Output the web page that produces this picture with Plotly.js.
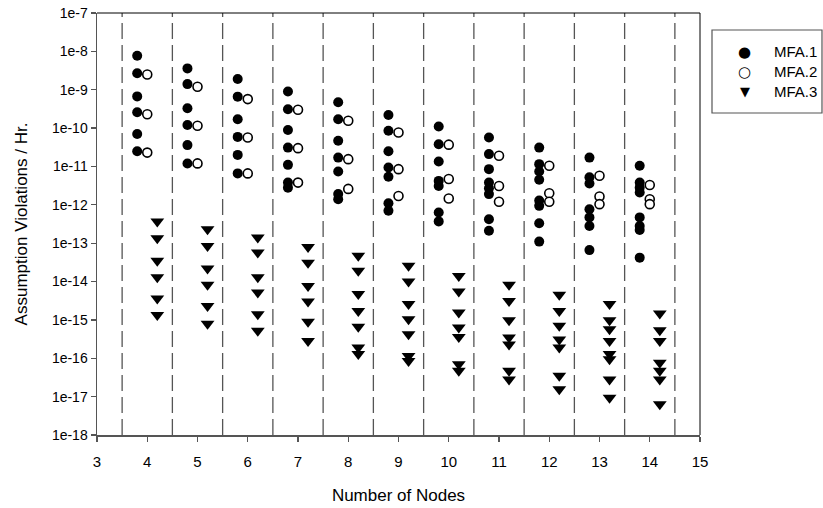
<!DOCTYPE html>
<html>
<head>
<meta charset="utf-8">
<script src="https://cdn.plot.ly/plotly-3.0.1.min.js"></script>
<style>
  html, body { margin: 0; padding: 0; background: #fff; }
  #chart { width: 823px; height: 508px; }
</style>
</head>
<body>
<div id="chart"></div>
<script>
// Number of nodes in the system (x categories)
const nodes = [4, 5, 6, 7, 8, 9, 10, 11, 12, 13, 14];

// Assumption violations per hour, one list per node count
const mfa1 = [
  [7.7e-9, 2.7e-9, 6.7e-10, 2.6e-10, 7.0e-11, 2.5e-11],
  [3.6e-9, 1.4e-9, 3.3e-10, 1.2e-10, 3.6e-11, 1.2e-11],
  [1.9e-9, 6.6e-10, 1.7e-10, 5.9e-11, 2.0e-11, 6.6e-12],
  [9.0e-10, 3.1e-10, 8.9e-11, 3.1e-11, 1.1e-11, 3.8e-12, 2.8e-12],
  [4.7e-10, 1.7e-10, 4.7e-11, 1.7e-11, 7.4e-12, 1.9e-12, 1.4e-12],
  [2.2e-10, 8.5e-11, 2.5e-11, 9.4e-12, 5.4e-12, 1.1e-12, 7.0e-13],
  [1.1e-10, 3.8e-11, 1.35e-11, 4.2e-12, 3.1e-12, 6.3e-13, 3.7e-13],
  [5.7e-11, 2.1e-11, 8.5e-12, 3.8e-12, 2.7e-12, 1.9e-12, 4.2e-13, 2.1e-13],
  [3.1e-11, 1.15e-11, 7.4e-12, 4.5e-12, 1.3e-12, 9.4e-13, 3.3e-13, 1.1e-13],
  [1.7e-11, 5.2e-12, 3.6e-12, 7.7e-13, 4.7e-13, 2.8e-13, 6.6e-14],
  [1.04e-11, 3.8e-12, 2.8e-12, 2.1e-12, 4.7e-13, 2.8e-13, 2.2e-13, 4.2e-14]
];

const mfa2 = [
  [2.5e-9, 2.3e-10, 2.3e-11],
  [1.2e-9, 1.15e-10, 1.2e-11],
  [5.7e-10, 5.7e-11, 6.6e-12],
  [3.0e-10, 3.0e-11, 3.8e-12],
  [1.55e-10, 1.55e-11, 2.6e-12],
  [7.7e-11, 8.5e-12, 1.7e-12],
  [3.7e-11, 4.7e-12, 1.46e-12],
  [1.9e-11, 3.1e-12, 1.2e-12],
  [1.04e-11, 2.0e-12, 1.2e-12],
  [5.7e-12, 1.65e-12, 1.04e-12],
  [3.3e-12, 1.4e-12, 1.04e-12]
];

const mfa3 = [
  [3.7e-13, 1.35e-13, 3.5e-14, 1.3e-14, 3.6e-15, 1.35e-15],
  [2.3e-13, 8.5e-14, 2.2e-14, 8.2e-15, 2.3e-15, 8.0e-16],
  [1.4e-13, 5.7e-14, 1.3e-14, 5.2e-15, 1.4e-15, 5.2e-16],
  [8.0e-14, 3.1e-14, 7.7e-15, 3.0e-15, 8.9e-16, 2.8e-16],
  [4.7e-14, 1.9e-14, 4.7e-15, 1.7e-15, 6.6e-16, 1.9e-16, 1.3e-16],
  [2.6e-14, 1.0e-14, 2.6e-15, 1.04e-15, 4.2e-16, 1.15e-16, 8.5e-17],
  [1.4e-14, 5.5e-15, 1.55e-15, 6.3e-16, 3.6e-16, 7.0e-17, 4.7e-17],
  [8.2e-15, 3.1e-15, 9.8e-16, 3.5e-16, 2.3e-16, 4.7e-17, 2.8e-17],
  [4.5e-15, 1.7e-15, 7.0e-16, 3.1e-16, 1.9e-16, 3.5e-17, 1.55e-17],
  [2.6e-15, 9.8e-16, 5.7e-16, 2.8e-16, 1.3e-16, 9.4e-17, 2.8e-17, 9.4e-18],
  [1.46e-15, 5.4e-16, 2.8e-16, 7.7e-17, 4.7e-17, 2.8e-17, 6.3e-18]
];

const seriesNames = ['MFA.1', 'MFA.2', 'MFA.3'];
const legendGlyphs = ['\u25CF', '\u25CB', '\u25BC'];

// Decade exponents for the log axis labels
const yExponents = [-7, -8, -9, -10, -11, -12, -13, -14, -15, -16, -17, -18];
const xTicks = [3, 4, 5, 6, 7, 8, 9, 10, 11, 12, 13, 14, 15];

// Flatten per-node lists into x/y pairs
function flatten(groups) {
  const x = [], y = [];
  groups.forEach((vals, i) => {
    vals.forEach(v => { x.push(nodes[i]); y.push(v); });
  });
  return { x, y };
}

const s1 = flatten(mfa1), s2 = flatten(mfa2), s3 = flatten(mfa3);

const traces = [
  {
    type: 'scatter', mode: 'markers', name: seriesNames[0], offsetgroup: 'a',
    x: s1.x, y: s1.y,
    marker: { symbol: 'circle', size: 10, color: '#000' }
  },
  {
    type: 'scatter', mode: 'markers', name: seriesNames[1], offsetgroup: 'b',
    x: s2.x, y: s2.y,
    marker: { symbol: 'circle', size: 9, color: '#fff', line: { color: '#000', width: 1.6 } }
  },
  {
    type: 'scatter', mode: 'markers', name: seriesNames[2], offsetgroup: 'c',
    x: s3.x, y: s3.y,
    marker: { symbol: 'triangle-down', size: 12, color: '#000' }
  }
];

// Dashed separators between node groups
const separators = nodes.map(n => n - 0.5).concat([nodes[nodes.length - 1] + 0.5]);
const shapes = separators.map(b => ({
  type: 'line', xref: 'x', yref: 'paper', x0: b, x1: b, y0: 0, y1: 1,
  line: { color: '#555', width: 1.3, dash: '16px,6px' }
}));
// Top and right frame
shapes.push({ type: 'line', xref: 'paper', yref: 'paper', x0: 0, x1: 1, y0: 1, y1: 1, line: { color: '#000', width: 1 } });
shapes.push({ type: 'line', xref: 'paper', yref: 'paper', x0: 1, x1: 1, y0: 0, y1: 1, line: { color: '#000', width: 1 } });
// Legend frame
shapes.push({ type: 'rect', xref: 'paper', yref: 'paper', x0: 1.0199, x1: 1.2023, y0: 0.763, y1: 0.9597,
  line: { color: '#555', width: 1.2 }, fillcolor: 'rgba(0,0,0,0)' });

const font = 'Liberation Sans, Arial, Helvetica, sans-serif';

// Legend key: symbol + label rows inside the frame
const legendRowY = [0.9083, 0.8609, 0.8136];
const annotations = [];
seriesNames.forEach((name, i) => {
  annotations.push({
    xref: 'paper', yref: 'paper', x: 1.0746, y: legendRowY[i],
    xanchor: 'center', yanchor: 'middle', showarrow: false,
    text: legendGlyphs[i],
    font: { family: 'DejaVu Sans', size: i === 2 ? 13 : 15, color: '#000' }
  });
  annotations.push({
    xref: 'paper', yref: 'paper', x: 1.1189, y: legendRowY[i],
    xanchor: 'left', yanchor: 'middle', showarrow: false,
    text: name,
    font: { family: font, size: 15, color: '#000' }
  });
});

const layout = {
  width: 823, height: 508,
  margin: { l: 97, r: 123, t: 13, b: 73, pad: 0, autoexpand: false },
  paper_bgcolor: '#fff', plot_bgcolor: '#fff',
  font: { family: font, color: '#000' },
  scattermode: 'group',
  scattergap: 0.4,
  showlegend: false,
  xaxis: {
    range: [3, 15], tickvals: xTicks, ticktext: xTicks.map(String),
    ticks: 'outside', ticklen: 5, tickwidth: 1.2, tickcolor: '#555',
    ticklabelstandoff: 7,
    showline: true, linecolor: '#555', linewidth: 1.5,
    showgrid: false, zeroline: false,
    tickfont: { family: font, size: 15, color: '#000' },
    title: { text: 'Number of Nodes', font: { family: font, size: 17, color: '#000' }, standoff: 20 }
  },
  yaxis: {
    type: 'log', range: [-18, -7],
    tickvals: yExponents.map(e => Math.pow(10, e)),
    ticktext: yExponents.map(e => '1e' + e),
    ticks: 'outside', ticklen: 5, tickwidth: 1.2, tickcolor: '#555',
    showline: true, linecolor: '#555', linewidth: 1.5,
    showgrid: false, zeroline: false,
    tickfont: { family: font, size: 14, color: '#000' },
    title: { text: 'Assumption Violations / Hr.', font: { family: font, size: 17, color: '#000' }, standoff: 20 }
  },
  shapes: shapes,
  annotations: annotations
};

Plotly.newPlot('chart', traces, layout, { staticPlot: true, displayModeBar: false });
</script>
</body>
</html>
